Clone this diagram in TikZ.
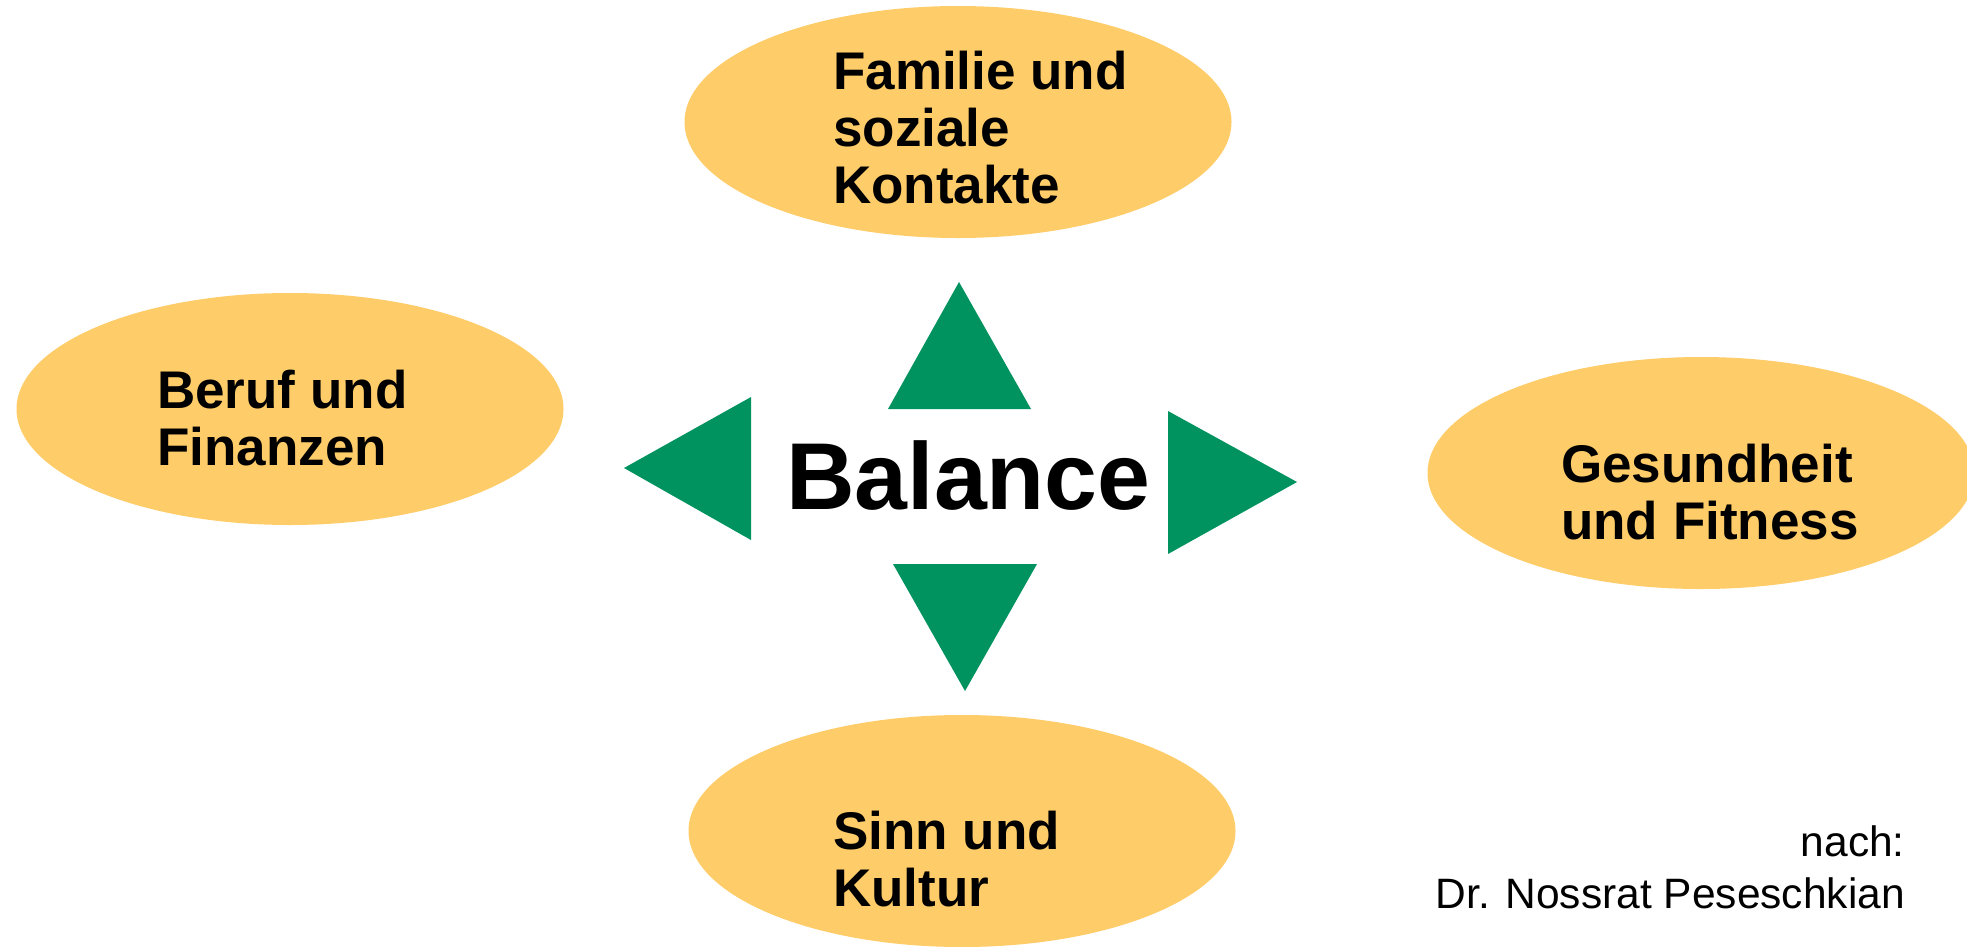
\documentclass[tikz,border=0pt]{standalone}
\usepackage{fontspec}
\setmainfont{Liberation Sans}
\usetikzlibrary{shapes.geometric}
\definecolor{ellfill}{HTML}{FECC69}
\definecolor{arrgreen}{HTML}{00935F}
\begin{document}
\begin{tikzpicture}[x=1pt,y=-1pt,
  ell/.style={ellipse, fill=ellfill, minimum width=547pt, minimum height=232pt, inner sep=0pt},
  lbl/.style={anchor=base west, inner sep=0pt, font=\bfseries\fontsize{53}{57}\selectfont},
  tri/.style={fill=arrgreen},
  credit/.style={anchor=base east, inner sep=0pt, font=\fontsize{42.5}{50}\selectfont}]
\useasboundingbox (0,0) rectangle (1967,946);
% ellipses
\node[ell] (fam) at (958,122) {};
\node[ell] (beruf) at (290,409) {};
\node[ell] (ges) at (1701,473) {};
\node[ell] (sinn) at (962,831) {};
% labels
\node[lbl] (famt) at (833,89) {\begin{tabular}[t]{@{}l@{}}Familie und\\soziale\\Kontakte\end{tabular}};
\node[lbl] (beruft) at (157,408) {\begin{tabular}[t]{@{}l@{}}Beruf und\\Finanzen\end{tabular}};
\node[lbl] (gest) at (1561,482) {\begin{tabular}[t]{@{}l@{}}Gesundheit\\und Fitness\end{tabular}};
\node[lbl] (sinnt) at (833,849) {\begin{tabular}[t]{@{}l@{}}Sinn und\\Kultur\end{tabular}};
% triangles
\fill[tri] (959,282) -- (1031,409) -- (888,409) -- cycle;
\fill[tri] (624,468) -- (751,397) -- (751,540) -- cycle;
\fill[tri] (1297,482) -- (1168,411) -- (1168,554) -- cycle;
\fill[tri] (965,691) -- (893,564) -- (1037,564) -- cycle;
% center
\node[anchor=base west, inner sep=0pt, font=\bfseries\fontsize{95}{100}\selectfont] (bal) at (786,509) {Balance};
% credit
\node[credit] (nach) at (1905,856) {nach:};
\node[credit] (dr) at (1905,908) {Dr. Nossrat Peseschkian};
\end{tikzpicture}
\end{document}
